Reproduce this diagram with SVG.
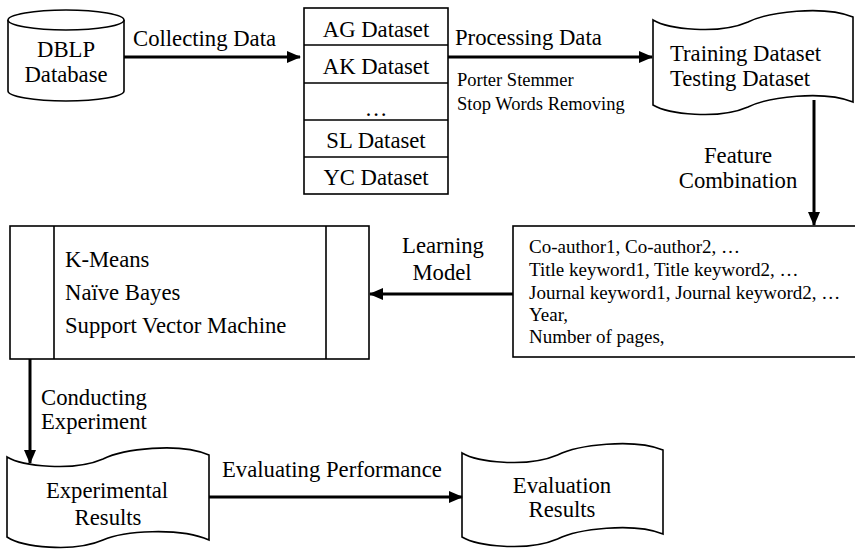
<svg xmlns="http://www.w3.org/2000/svg" width="855" height="551" viewBox="0 0 855 551">
<style>
.shape{fill:#fff;stroke:#000;stroke-width:1.6}
.line{fill:none;stroke:#000;stroke-width:1.6}
.conn{fill:none;stroke:#000;stroke-width:3}
text{font-family:"Liberation Serif","Times New Roman",serif;fill:#000}
.big{font-size:22.7px}
.mid{font-size:19px}
.sm{font-size:18.5px}
.c{text-anchor:middle}
</style>
<defs>
<marker id="ah" markerUnits="userSpaceOnUse" markerWidth="14" markerHeight="12" refX="13" refY="6" orient="auto">
<path d="M0,0 L14,6 L0,12 Z" fill="#000"/>
</marker>
</defs>
<rect width="855" height="551" fill="#fff"/>

<g id="dblp">
<path class="shape" d="M8,20 L8,91 A58,10 0 0 0 124,91 L124,20"/>
<ellipse class="shape" cx="66" cy="20" rx="58" ry="10"/>
<text class="big c" x="66" y="57">DBLP</text>
<text class="big c" x="66" y="82">Database</text>
</g>

<g id="datasets">
<rect class="shape" x="304" y="8" width="144" height="186"/>
<path class="line" d="M304,45 H448 M304,83 H448 M304,120 H448 M304,157 H448"/>
<text class="big c" x="376" y="37">AG Dataset</text>
<text class="big c" x="376" y="74">AK Dataset</text>
<text class="big c" x="376" y="116">…</text>
<text class="big c" x="376" y="148">SL Dataset</text>
<text class="big c" x="376" y="185">YC Dataset</text>
</g>

<g id="trainTest">
<path class="shape" d="M653,20 C668,29 718,35 748,22 C768,12 823,5 853,17 L853,102 C823,90 768,97 748,107 C718,120 668,114 653,105 Z"/>
<text class="big" x="670" y="61">Training Dataset</text>
<text class="big" x="670" y="86">Testing Dataset</text>
</g>

<g id="features">
<rect class="shape" x="513" y="226" width="350" height="131"/>
<text class="mid" x="529" y="253">Co-author1, Co-author2, …</text>
<text class="mid" x="529" y="276">Title keyword1, Title keyword2, …</text>
<text class="mid" x="529" y="299">Journal keyword1, Journal keyword2, …</text>
<text class="mid" x="529" y="321">Year,</text>
<text class="mid" x="529" y="343">Number of pages,</text>
</g>

<g id="models">
<rect class="shape" x="10" y="226" width="359" height="133"/>
<path class="line" d="M54,226 V359 M326,226 V359"/>
<text class="big" x="65" y="267">K-Means</text>
<text class="big" x="65" y="300">Naïve Bayes</text>
<text class="big" x="65" y="333">Support Vector Machine</text>
</g>

<g id="expResults">
<path class="shape" d="M7,457 C22,466 73,472 103,459 C123,449 179,442 209,455 L209,540 C179,527 123,531 103,540 C73,553 22,547 7,537 Z"/>
<text class="big c" x="107" y="498">Experimental</text>
<text class="big c" x="108" y="525">Results</text>
</g>

<g id="evalResults">
<path class="shape" d="M462,453 C477,462 527,468 557.5,455 C577.6,445 633,438 663,450 L663,534 C633,522 577.6,529 557.5,539 C527,552 477,546 462,537 Z"/>
<text class="big c" x="562" y="493">Evaluation</text>
<text class="big c" x="562" y="517">Results</text>
</g>

<g id="connectors">
<line class="conn" x1="124" y1="57" x2="300" y2="57" marker-end="url(#ah)"/>
<line class="conn" x1="448" y1="57" x2="652" y2="57" marker-end="url(#ah)"/>
<line class="conn" x1="814" y1="100" x2="814" y2="225" marker-end="url(#ah)"/>
<line class="conn" x1="513" y1="294" x2="370" y2="294" marker-end="url(#ah)"/>
<line class="conn" x1="30" y1="359" x2="30" y2="463" marker-end="url(#ah)"/>
<line class="conn" x1="209" y1="497" x2="462" y2="497" marker-end="url(#ah)"/>
<text class="big" x="133" y="46">Collecting Data</text>
<text class="big" x="455" y="45">Processing Data</text>
<text class="sm" x="457" y="86">Porter Stemmer</text>
<text class="sm" x="457" y="110">Stop Words Removing</text>
<text class="big c" x="738" y="163">Feature</text>
<text class="big c" x="738" y="188">Combination</text>
<text class="big c" x="443" y="253">Learning</text>
<text class="big c" x="442" y="280">Model</text>
<text class="big" x="41" y="405">Conducting</text>
<text class="big" x="41" y="429">Experiment</text>
<text class="big" x="222" y="477">Evaluating Performance</text>
</g>
</svg>
